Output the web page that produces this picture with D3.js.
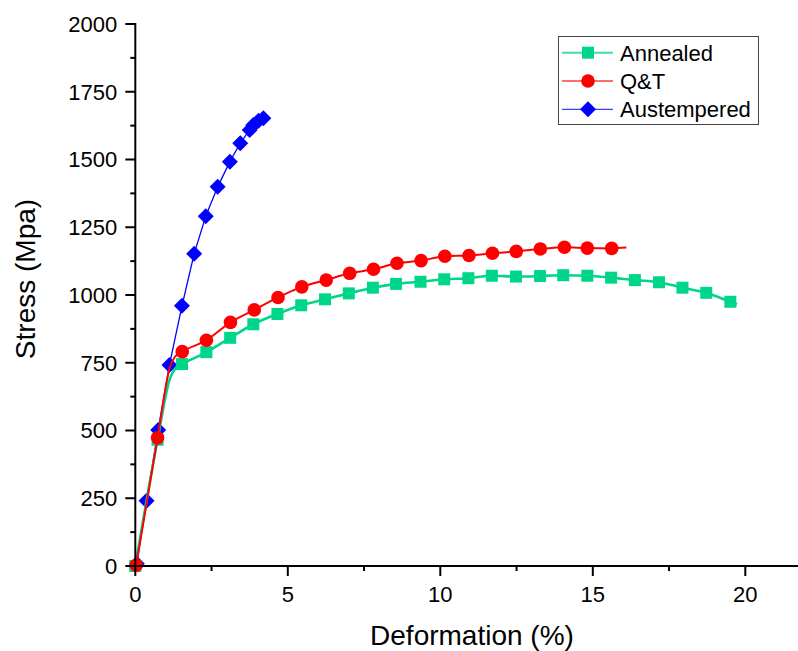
<!DOCTYPE html>
<html>
<head>
<meta charset="utf-8">
<script src="https://cdn.jsdelivr.net/npm/d3@7"></script>
<style>
  html, body { margin: 0; padding: 0; background: #fff; }
  svg { display: block; font-family: "Liberation Sans", Arial, sans-serif; }
</style>
</head>
<body>
<svg id="chart" width="798" height="651"></svg>
<script>
// ---- Data ----
const seriesNames = ["Annealed", "Q&T", "Austempered"];

// Annealed: marker points
const annealedMarkX = [0, 0.73, 1.53, 2.33, 3.11, 3.87, 4.66, 5.44, 6.22, 7.00, 7.79, 8.55, 9.35, 10.13, 10.92, 11.69, 12.48, 13.27, 14.03, 14.82, 15.60, 16.38, 17.17, 17.94, 18.72, 19.51];
const annealedMarkY = [0, 466, 745, 789, 842, 892, 930, 962, 984, 1006, 1027, 1041, 1049, 1058, 1062, 1071, 1068, 1070, 1073, 1071, 1064, 1055, 1047, 1027, 1008, 975];
// Annealed: extra curve points between markers (yield knee, end of curve)
const annealedCurveX = [1.12, 1.36, 19.73];
const annealedCurveY = [686, 735, 966];

// Q&T: marker points
const qtMarkX = [0.03, 0.73, 1.54, 2.33, 3.12, 3.90, 4.68, 5.46, 6.26, 7.03, 7.81, 8.58, 9.37, 10.15, 10.94, 11.71, 12.49, 13.28, 14.07, 14.82, 15.62];
const qtMarkY = [3, 473, 791, 833, 899, 945, 991, 1030, 1055, 1080, 1095, 1117, 1127, 1143, 1146, 1154, 1161, 1170, 1176, 1173, 1172];
const qtCurveX = [1.14, 1.30, 16.10];
const qtCurveY = [735, 772, 1175];

// Austempered: marker points
const austMarkX = [0.05, 0.37, 0.75, 1.12, 1.53, 1.93, 2.31, 2.70, 3.10, 3.44, 3.75, 3.87, 4.04, 4.20];
const austMarkY = [8, 241, 502, 742, 960, 1152, 1291, 1399, 1492, 1560, 1609, 1627, 1643, 1652];

// Axis ticks
const xTicks = [0, 5, 10, 15, 20];
const xMinorTicks = [2.5, 7.5, 12.5, 17.5];
const yTicks = [0, 250, 500, 750, 1000, 1250, 1500, 1750, 2000];
const yMinorTicks = [125, 375, 625, 875, 1125, 1375, 1625, 1875];

const colors = { "Annealed": "#00d68a", "Q&T": "#ff0000", "Austempered": "#0000ff" };

// ---- Build ----
const svg = d3.select("#chart");
svg.append("rect").attr("width", 798).attr("height", 651).attr("fill", "#fff");

const x = d3.scaleLinear().domain([0, 22]).range([135.3, 135.3 + 22 * 30.5]);
const y = d3.scaleLinear().domain([0, 2000]).range([566, 24]);

function zip(xs, ys) { return xs.map((v, i) => ({ x: v, y: ys[i] })); }
function merged(mx, my, cx, cy) {
  return zip(mx, my).concat(zip(cx, cy)).sort((a, b) => a.x - b.x);
}

const series = [
  { name: "Austempered", line: zip(austMarkX, austMarkY), marks: zip(austMarkX, austMarkY), width: 1.3, shape: "diamond" },
  { name: "Annealed", line: merged(annealedMarkX, annealedMarkY, annealedCurveX, annealedCurveY), marks: zip(annealedMarkX, annealedMarkY), width: 2.6, shape: "square" },
  { name: "Q&T", line: merged(qtMarkX, qtMarkY, qtCurveX, qtCurveY), marks: zip(qtMarkX, qtMarkY), width: 2, shape: "circle" }
];

function drawMarker(g, shape, cx, cy, color) {
  if (shape === "square") {
    g.append("rect").attr("x", cx - 6).attr("y", cy - 6).attr("width", 12).attr("height", 12).attr("fill", color);
  } else if (shape === "circle") {
    g.append("circle").attr("cx", cx).attr("cy", cy).attr("r", 6.8).attr("fill", color);
  } else {
    const r = 8;
    g.append("path").attr("d", `M${cx},${cy - r}L${cx + r},${cy}L${cx},${cy + r}L${cx - r},${cy}Z`).attr("fill", color);
  }
}

const plot = svg.append("g");
series.forEach(s => {
  const c = colors[s.name];
  const curve = s.shape === "diamond" ? d3.curveLinear : d3.curveMonotoneX;
  plot.append("path")
    .datum(s.line)
    .attr("fill", "none")
    .attr("stroke", c)
    .attr("stroke-width", s.width)
    .attr("d", d3.line().x(d => x(d.x)).y(d => y(d.y)).curve(curve));
  const mg = plot.append("g");
  s.marks.forEach(d => drawMarker(mg, s.shape, x(d.x), y(d.y), c));
});

// ---- Axes ----
const axisColor = "#000";
const xAxis = svg.append("g").attr("transform", "translate(0,566)");
xAxis.append("line").attr("x1", 134.3).attr("x2", 798).attr("y1", 0).attr("y2", 0).attr("stroke", axisColor).attr("stroke-width", 2);
xTicks.forEach(t => {
  xAxis.append("line").attr("x1", x(t)).attr("x2", x(t)).attr("y1", 0).attr("y2", 10).attr("stroke", axisColor).attr("stroke-width", 2);
  xAxis.append("text").attr("x", x(t)).attr("y", 36).attr("text-anchor", "middle").attr("font-size", 22).attr("fill", "#000").text(t);
});
xMinorTicks.forEach(t => {
  xAxis.append("line").attr("x1", x(t)).attr("x2", x(t)).attr("y1", 0).attr("y2", 5).attr("stroke", axisColor).attr("stroke-width", 2);
});

const yAxis = svg.append("g").attr("transform", "translate(135.3,0)");
yAxis.append("line").attr("x1", 0).attr("x2", 0).attr("y1", 23).attr("y2", 567).attr("stroke", axisColor).attr("stroke-width", 2);
yTicks.forEach(t => {
  yAxis.append("line").attr("x1", -10).attr("x2", 0).attr("y1", y(t)).attr("y2", y(t)).attr("stroke", axisColor).attr("stroke-width", 2);
  yAxis.append("text").attr("x", -18).attr("y", y(t)).attr("dy", "0.36em").attr("text-anchor", "end").attr("font-size", 22).attr("fill", "#000").text(t);
});
yMinorTicks.forEach(t => {
  yAxis.append("line").attr("x1", -5).attr("x2", 0).attr("y1", y(t)).attr("y2", y(t)).attr("stroke", axisColor).attr("stroke-width", 2);
});

// Axis titles
svg.append("text").attr("x", 472).attr("y", 645).attr("text-anchor", "middle").attr("font-size", 28).attr("fill", "#000").text("Deformation (%)");
svg.append("text").attr("transform", "translate(35,279) rotate(-90)").attr("text-anchor", "middle").attr("font-size", 28).attr("fill", "#000").text("Stress (Mpa)");

// ---- Legend ----
const legend = svg.append("g");
legend.append("rect").attr("x", 558.5).attr("y", 36.5).attr("width", 200).attr("height", 88).attr("fill", "#fff").attr("stroke", "#444").attr("stroke-width", 1);
const legendOrder = [
  { name: "Annealed", shape: "square", width: 2 },
  { name: "Q&T", shape: "circle", width: 1.5 },
  { name: "Austempered", shape: "diamond", width: 1.3 }
];
legendOrder.forEach((s, i) => {
  const ly = 52.7 + i * 28.3;
  const c = colors[s.name];
  legend.append("line").attr("x1", 562).attr("x2", 613).attr("y1", ly).attr("y2", ly).attr("stroke", c).attr("stroke-width", s.width).attr("opacity", 0.75);
  drawMarker(legend, s.shape, 588, ly, c);
  legend.append("text").attr("x", 620).attr("y", ly).attr("dy", "0.36em").attr("font-size", 22).attr("fill", "#000").text(s.name);
});
</script>
</body>
</html>
